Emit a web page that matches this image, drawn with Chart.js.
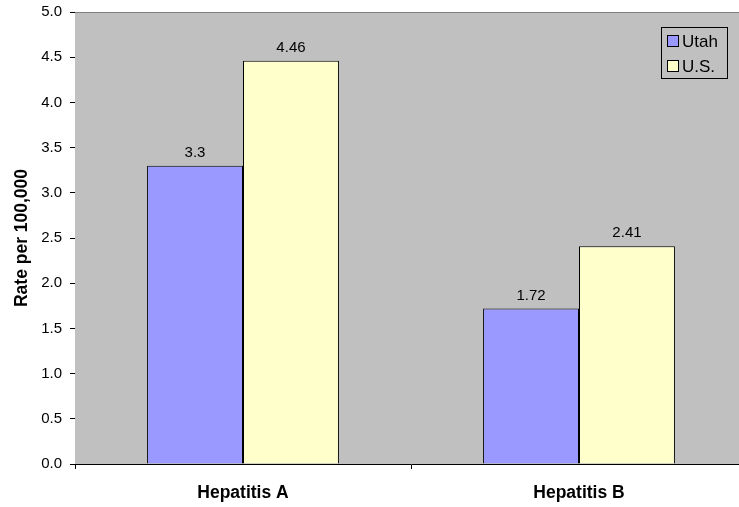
<!DOCTYPE html>
<html>
<head>
<meta charset="utf-8">
<script src="https://cdn.jsdelivr.net/npm/chart.js@4/dist/chart.umd.min.js"></script>
<style>
  html, body { margin: 0; padding: 0; background: #fff; overflow: hidden; }
  #wrap { width: 752px; height: 507px; position: relative; }
</style>
</head>
<body>
<div id="wrap"><canvas id="barChart"></canvas></div>
<script>
// Chart data
const categories = ['Hepatitis A', 'Hepatitis B'];
const utahValues = [3.3, 1.72];
const usValues = [4.46, 2.41];
const seriesNames = ['Utah', 'U.S.'];

// Colors
const utahColor = '#9999FF';
const usColor = '#FFFFCC';
const plotBg = '#C0C0C0';
const fontFamily = '"Liberation Sans", Arial, sans-serif';

// plot background + top border
const plotBgPlugin = {
  id: 'plotBg',
  beforeDatasetsDraw(chart) {
    const { ctx, chartArea: a } = chart;
    ctx.save();
    ctx.fillStyle = plotBg;
    ctx.fillRect(a.left, a.top, a.right - a.left, a.bottom - a.top);
    ctx.strokeStyle = '#808080';
    ctx.lineWidth = 1;
    ctx.beginPath();
    ctx.moveTo(a.left, a.top + 0.5);
    ctx.lineTo(a.right, a.top + 0.5);
    ctx.stroke();
    ctx.restore();
  }
};

// value labels above each bar
const valueLabels = {
  id: 'valueLabels',
  afterDatasetsDraw(chart) {
    const { ctx } = chart;
    ctx.save();
    ctx.font = '15px ' + fontFamily;
    ctx.fillStyle = '#000';
    ctx.textAlign = 'center';
    ctx.textBaseline = 'alphabetic';
    chart.data.datasets.forEach((ds, i) => {
      chart.getDatasetMeta(i).data.forEach((bar, j) => {
        ctx.fillText(String(ds.data[j]), bar.x, bar.y - 9);
      });
    });
    ctx.restore();
  }
};

// boxed legend inside the plot, top right
const boxLegend = {
  id: 'boxLegend',
  afterDraw(chart) {
    const { ctx } = chart;
    const x = 661, y = 27, w = 66, h = 51;
    ctx.save();
    ctx.strokeStyle = '#000';
    ctx.lineWidth = 1;
    ctx.strokeRect(x + 0.5, y + 0.5, w, h);
    ctx.font = '17px ' + fontFamily;
    ctx.textBaseline = 'middle';
    ctx.textAlign = 'left';
    chart.data.datasets.forEach((ds, i) => {
      const cy = y + 14 + i * 25;
      ctx.fillStyle = ds.backgroundColor;
      ctx.fillRect(x + 6.5, cy - 5.5, 11, 11);
      ctx.strokeRect(x + 6.5, cy - 5.5, 11, 11);
      ctx.fillStyle = '#000';
      ctx.fillText(ds.label, x + 21, cy + 1);
    });
    ctx.restore();
  }
};

const barChart = document.getElementById('barChart');
const barChartVar = new Chart(barChart, {
  type: 'bar',
  data: {
    labels: categories,
    datasets: [
      {
        label: seriesNames[0],
        data: utahValues,
        backgroundColor: utahColor,
        borderColor: '#000',
        borderWidth: 1
      },
      {
        label: seriesNames[1],
        data: usValues,
        backgroundColor: usColor,
        borderColor: '#000',
        borderWidth: 1
      }
    ]
  },
  options: {
    responsive: true,
    maintainAspectRatio: false,
    animation: false,
    layout: {
      padding: { top: 12, right: 5, bottom: 0, left: 0 }
    },
    datasets: {
      bar: {
        categoryPercentage: 0.571,
        barPercentage: 1
      }
    },
    plugins: {
      legend: { display: false },
      tooltip: { enabled: false }
    },
    scales: {
      x: {
        afterFit(scale) {
          scale.height = 43;
          scale.paddingLeft = 0;
          scale.paddingRight = 0;
        },
        border: { color: '#000', width: 1 },
        grid: {
          offset: true,
          drawOnChartArea: false,
          tickLength: 5,
          color: '#000'
        },
        ticks: {
          color: '#000',
          padding: 14,
          font: { family: fontFamily, size: 17.5, weight: 'bold' }
        }
      },
      y: {
        min: 0,
        max: 5,
        afterFit(scale) {
          scale.width = 75;
          scale.paddingTop = 0;
          scale.paddingBottom = 0;
        },
        border: { color: '#000', width: 1 },
        grid: {
          drawOnChartArea: false,
          tickLength: 5,
          color: '#000'
        },
        ticks: {
          stepSize: 0.5,
          color: '#000',
          padding: 8,
          font: { family: fontFamily, size: 15 },
          callback: (v) => v.toFixed(1)
        },
        title: {
          display: true,
          text: 'Rate per 100,000',
          color: '#000',
          padding: { top: 12, bottom: 0 },
          font: { family: fontFamily, size: 17.5, weight: 'bold' }
        }
      }
    }
  },
  plugins: [plotBgPlugin, valueLabels, boxLegend]
});
</script>
</body>
</html>
